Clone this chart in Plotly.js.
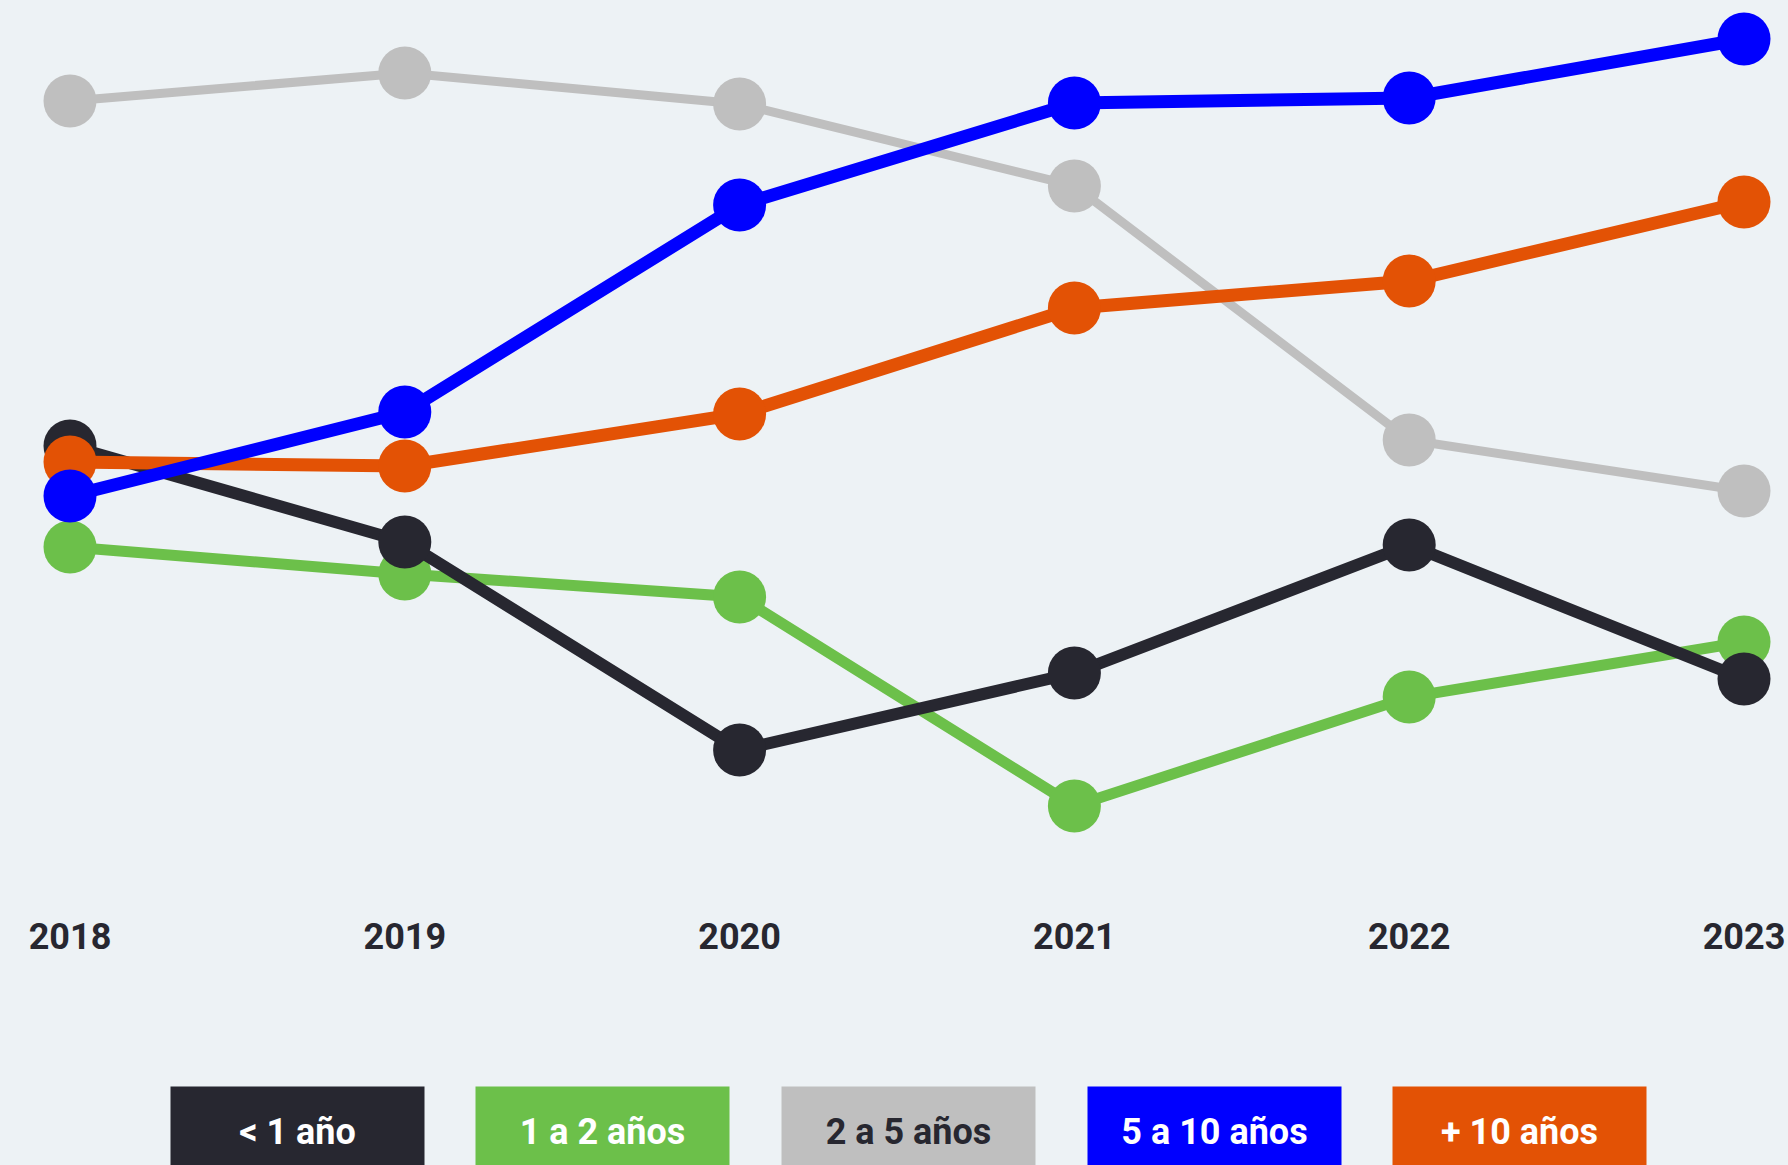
<!DOCTYPE html>
<html>
<head>
<meta charset="utf-8">
<script src="https://cdn.plot.ly/plotly-3.0.1.min.js"></script>
<style>
  html, body { margin: 0; padding: 0; background: #edf2f5; }
  #chart { width: 1788px; height: 1165px; }
</style>
</head>
<body>
<div id="chart"></div>
<script>
// ---- Data (no y axis is shown, values are in arbitrary units) ----
const years = [2018, 2019, 2020, 2021, 2022, 2023];
const yearLabels = ['2018', '2019', '2020', '2021', '2022', '2023'];
const seriesNames = ['< 1 año', '1 a 2 años', '2 a 5 años', '5 a 10 años', '+ 10 años'];

const menosUnAnio     = [40.4, 30.8, 10.0, 17.7, 30.5, 17.1];
const unADosAnios     = [30.3, 27.6, 25.3,  4.4, 15.3, 20.8];
const dosACincoAnios  = [74.9, 77.7, 74.6, 66.4, 41.0, 35.9];
const cincoADiezAnios = [35.4, 43.8, 64.5, 74.7, 75.2, 81.1];
const masDiezAnios    = [38.8, 38.4, 43.6, 54.2, 56.9, 64.8];

const seriesColors = ['#272730', '#6cc04a', '#bfbfbf', '#0000ff', '#e35205'];
const seriesText   = ['#ffffff', '#ffffff', '#272730', '#ffffff', '#ffffff'];
const lineWidths   = [12, 11, 9, 13, 13];

const seriesValues = [menosUnAnio, unADosAnios, dosACincoAnios, cincoADiezAnios, masDiezAnios];
// drawing order (bottom to top) as in the reference
const drawOrder = [2, 1, 0, 4, 3];

const traces = drawOrder.map(i => ({
  type: 'scatter',
  mode: 'lines+markers',
  name: seriesNames[i],
  x: years,
  y: seriesValues[i],
  line: { color: seriesColors[i], width: lineWidths[i] },
  marker: { color: seriesColors[i], size: 53, line: { width: 0 } },
  cliponaxis: false,
  hoverinfo: 'x+y+name'
}));

const W = 1788;
const legendCenters = [297, 602, 908, 1214, 1519];
const annotations = seriesNames.map((name, i) => ({
  text: name,
  xref: 'paper', yref: 'paper',
  x: legendCenters[i] / W,
  y: (900 - 1086) / 900,
  xanchor: 'center', yanchor: 'top',
  showarrow: false,
  width: 253, height: 90,
  bgcolor: seriesColors[i],
  borderpad: 0,
  align: 'center', valign: 'middle',
  font: { family: 'Roboto, sans-serif', size: 36, color: seriesText[i], weight: 'bold' }
}));

const layout = {
  width: 1788,
  height: 1165,
  paper_bgcolor: '#edf2f5',
  plot_bgcolor: '#edf2f5',
  showlegend: false,
  margin: { l: 0, r: 0, t: 0, b: 265, pad: 0 },
  xaxis: {
    range: [2018 - 70 / 334.8, 2023 + 44 / 334.8],
    tickvals: years,
    ticktext: yearLabels,
    showgrid: false, zeroline: false, showline: false,
    ticks: '',
    ticklabelstandoff: 12,
    tickfont: { family: 'Roboto, sans-serif', size: 36, color: '#272730', weight: 'bold' }
  },
  yaxis: {
    range: [-5, 85],
    showgrid: false, zeroline: false, showline: false,
    showticklabels: false, ticks: ''
  },
  annotations: annotations
};

Plotly.newPlot('chart', traces, layout, { displayModeBar: false, staticPlot: true });
</script>
</body>
</html>
